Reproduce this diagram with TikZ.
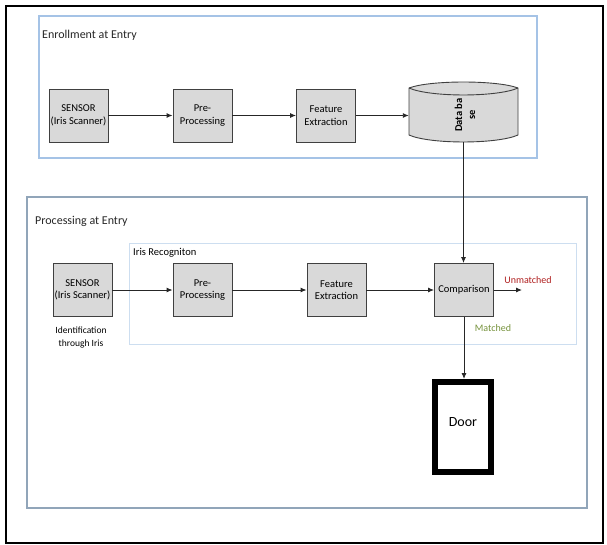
\documentclass[tikz,border=0pt]{standalone}
\usepackage{fontspec}
\setmainfont{Carlito}
\usetikzlibrary{arrows.meta,calc}
\definecolor{boxfill}{RGB}{217,217,217}
\definecolor{boxline}{RGB}{64,64,64}
\definecolor{enrblue}{RGB}{165,195,230}
\definecolor{procblue}{RGB}{145,165,185}
\definecolor{irisblue}{RGB}{205,222,240}
\definecolor{unmred}{RGB}{175,30,30}
\definecolor{matgreen}{RGB}{118,146,60}
\tikzset{
  stepbox/.style={draw=boxline, fill=boxfill, line width=0.9pt, minimum width=59pt, minimum height=53pt, inner sep=1pt, align=center, font=\fontsize{10.5}{12.5}\selectfont},
  conn/.style={draw=black!85, line width=0.9pt, -{Latex[length=6pt,width=5pt]}},
  region/.style={line width=1.2pt},
  title/.style={anchor=west, inner sep=0pt, font=\fontsize{12}{14}\selectfont, text=black!85},
  small/.style={inner sep=0pt, align=center, font=\fontsize{10}{12.5}\selectfont}
}
\begin{document}
\begin{tikzpicture}[x=1pt,y=-1pt]
\useasboundingbox (0,0) rectangle (607,544);
\draw[line width=1.5pt, black] (6,6) rectangle (603,543);
% regions
\draw[region, draw=enrblue] (39,16) rectangle (537,158);
\draw[region, draw=procblue] (27,197) rectangle (587,508);
\draw[line width=1pt, draw=irisblue] (129,243) rectangle (576,344);
\node[title] (t1) at (42,35) {Enrollment at Entry};
\node[title] (t2) at (35,221) {Processing at Entry};
\node[small, anchor=west, font=\fontsize{10.5}{12}\selectfont] (t3) at (133,253) {Iris Recogniton};
% enrollment row
\node[stepbox] (e1) at (78.5,115.5) {SENSOR\\(Iris Scanner)};
\node[stepbox] (e2) at (202.5,115.5) {Pre-\\Processing};
\node[stepbox] (e3) at (326,115.5) {Feature\\Extraction};
\node[minimum width=109pt, minimum height=60pt, inner sep=0pt] (db) at (463.5,112) {};
\fill[boxfill] (409,88) .. controls (430,80) and (497,80) .. (518,88) -- (518,135)
  .. controls (497,144.3) and (430,144.3) .. (409,135) -- cycle;
\draw[boxline, line width=0.9pt] (409,88) .. controls (430,80) and (497,80) .. (518,88) -- (518,135)
  .. controls (497,144.3) and (430,144.3) .. (409,135) -- cycle;
\draw[boxline, line width=0.9pt] (409,88) .. controls (430,97.3) and (497,97.3) .. (518,88);
\node[small, rotate=90, font=\fontsize{10.5}{13}\selectfont\bfseries] (dbt) at (465,115) {Data ba\\se};
% processing row
\node[stepbox] (p1) at (82.5,290) {SENSOR\\(Iris Scanner)};
\node[stepbox] (p2) at (202.5,290) {Pre-\\Processing};
\node[stepbox] (p3) at (336.5,290) {Feature\\Extraction};
\node[stepbox] (p4) at (464,290) {Comparison};
\node[small, font=\fontsize{9.5}{12.5}\selectfont] (idt) at (81,337.5) {Identification\\through Iris};
\node[draw=black, line width=6pt, minimum width=56pt, minimum height=90pt, inner sep=0pt,
  text height=10pt, text depth=12pt, font=\fontsize{14}{16}\selectfont] (door) at (463,427) {Door};
\coordinate (unm) at (522,290);
\node[small, text=unmred] (unl) at (528,280) {Unmatched};
\node[small, text=matgreen] (mtl) at (493,328) {Matched};
% connectors
\draw[conn] (e1) -- (e2);
\draw[conn] (e2) -- (e3);
\draw[conn] (e3) -- (e3 -| db.west);
\draw[conn] (db.south) -- (db.south |- p4.north);
\draw[conn] (p1) -- (p2);
\draw[conn] (p2) -- (p3);
\draw[conn] (p3) -- (p4);
\draw[conn] (p4) -- (unm);
\draw[conn] (p4.south) -- (p4.south |- door.north);
\end{tikzpicture}
\end{document}
